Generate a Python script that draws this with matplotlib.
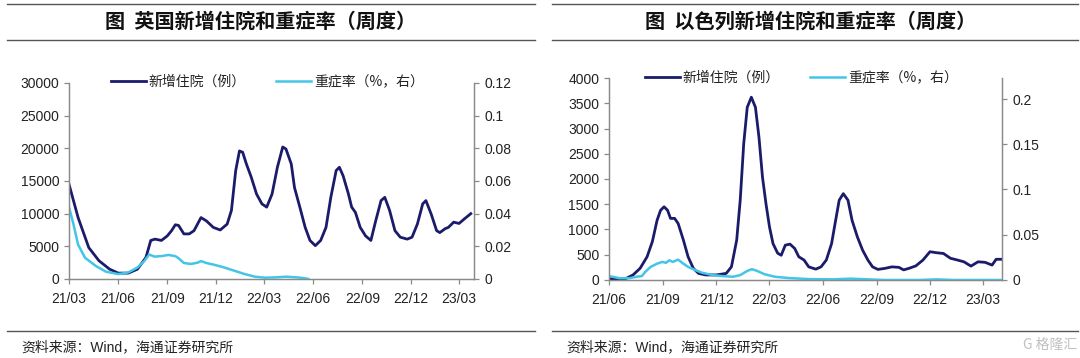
import matplotlib
matplotlib.use("Agg")
import matplotlib.pyplot as plt
import matplotlib.dates as mdates
from matplotlib.lines import Line2D
from matplotlib.ticker import FuncFormatter, MultipleLocator
import pandas as pd

plt.rcParams['font.family'] = ['Liberation Sans', 'Noto Sans CJK SC', 'DejaVu Sans']

# UK weekly new hospitalisations (cases) and severe rate (%, right axis)
uk_hosp_dates = ["2021-03-01", "2021-03-18", "2021-04-07", "2021-04-26", "2021-05-16", "2021-06-01",
                 "2021-06-20", "2021-07-07", "2021-07-16", "2021-07-23", "2021-08-01", "2021-08-09",
                 "2021-08-21", "2021-09-01", "2021-09-09", "2021-09-16", "2021-09-22", "2021-10-02",
                 "2021-10-12", "2021-10-21", "2021-11-03", "2021-11-13", "2021-11-26", "2021-12-09",
                 "2021-12-22", "2021-12-30", "2022-01-07", "2022-01-14", "2022-01-20", "2022-01-27",
                 "2022-02-05", "2022-02-15", "2022-02-25", "2022-03-06", "2022-03-16", "2022-03-26",
                 "2022-04-05", "2022-04-11", "2022-04-21", "2022-04-27", "2022-05-07", "2022-05-17",
                 "2022-05-26", "2022-06-05", "2022-06-15", "2022-06-25", "2022-07-04", "2022-07-14",
                 "2022-07-20", "2022-07-27", "2022-08-06", "2022-08-12", "2022-08-19", "2022-08-28",
                 "2022-09-07", "2022-09-17", "2022-09-26", "2022-10-06", "2022-10-13", "2022-10-22",
                 "2022-11-01", "2022-11-11", "2022-11-24", "2022-12-03", "2022-12-13", "2022-12-23",
                 "2022-12-29", "2023-01-08", "2023-01-18", "2023-01-24", "2023-02-03", "2023-02-09",
                 "2023-02-19", "2023-03-01", "2023-03-11", "2023-03-23"]
uk_hosp = [14500, 9400, 4800, 2800, 1500, 900,
           900, 1500, 2500, 3300, 5900, 6100,
           5900, 6600, 7400, 8300, 8200, 6900,
           6900, 7400, 9400, 8900, 7900, 7500,
           8400, 10500, 16600, 19600, 19400, 17600,
           15600, 13000, 11500, 11000, 13000, 17100,
           20200, 19900, 17600, 14000, 11000, 7900,
           5900, 5100, 5900, 7900, 12500, 16600,
           17100, 15800, 13000, 11000, 10200, 7900,
           6600, 5900, 8900, 12000, 12500, 10500,
           7400, 6400, 6100, 6400, 8400, 11500,
           12000, 9900, 7400, 7100, 7700, 7900,
           8700, 8500, 9200, 10000]
uk_sev_dates = ["2021-03-01", "2021-03-09", "2021-03-18", "2021-03-31", "2021-04-20", "2021-05-09",
                "2021-06-01", "2021-06-20", "2021-07-07", "2021-07-20", "2021-07-29", "2021-08-08",
                "2021-08-21", "2021-09-03", "2021-09-16", "2021-09-22", "2021-10-02", "2021-10-15",
                "2021-10-28", "2021-11-03", "2021-11-13", "2021-11-29", "2021-12-16", "2022-01-04",
                "2022-01-23", "2022-02-12", "2022-03-03", "2022-03-23", "2022-04-11", "2022-05-01",
                "2022-05-13", "2022-05-23"]
uk_sev = [0.044, 0.034, 0.021, 0.013, 0.008, 0.0045,
          0.003, 0.004, 0.007, 0.011, 0.015, 0.0137,
          0.014, 0.0147, 0.014, 0.0127, 0.0098, 0.0092,
          0.010, 0.011, 0.0098, 0.0086, 0.0071, 0.0051,
          0.0031, 0.0014, 0.0008, 0.001, 0.0014, 0.001,
          0.0006, 0.0]

# Israel weekly new hospitalisations (cases) and severe rate (%, right axis)
il_hosp_dates = ["2021-06-01", "2021-06-19", "2021-06-30", "2021-07-12", "2021-07-24", "2021-08-05",
                 "2021-08-14", "2021-08-22", "2021-08-28", "2021-09-03", "2021-09-09", "2021-09-14",
                 "2021-09-21", "2021-09-27", "2021-10-06", "2021-10-14", "2021-10-23", "2021-11-01",
                 "2021-11-13", "2021-12-01", "2021-12-18", "2021-12-27", "2022-01-05", "2022-01-11",
                 "2022-01-17", "2022-01-23", "2022-01-30", "2022-02-06", "2022-02-12", "2022-02-18",
                 "2022-02-24", "2022-03-02", "2022-03-08", "2022-03-16", "2022-03-22", "2022-03-29",
                 "2022-04-06", "2022-04-14", "2022-04-21", "2022-04-30", "2022-05-08", "2022-05-20",
                 "2022-05-29", "2022-06-07", "2022-06-16", "2022-06-22", "2022-06-29", "2022-07-06",
                 "2022-07-14", "2022-07-21", "2022-07-30", "2022-08-08", "2022-08-17", "2022-08-25",
                 "2022-09-03", "2022-09-15", "2022-09-27", "2022-10-09", "2022-10-17", "2022-10-26",
                 "2022-11-07", "2022-11-19", "2022-12-01", "2022-12-12", "2022-12-24", "2023-01-05",
                 "2023-01-17", "2023-01-28", "2023-02-09", "2023-02-21", "2023-03-05", "2023-03-17",
                 "2023-03-24", "2023-04-02"]
il_hosp = [33, 0, 30, 100, 230, 460,
           760, 1180, 1380, 1450, 1380, 1220,
           1220, 1120, 790, 460, 230, 130,
           100, 100, 130, 260, 790, 1580,
           2700, 3420, 3620, 3420, 2830, 2040,
           1510, 1050, 720, 530, 490, 690,
           710, 625, 460, 395, 260, 215,
           260, 395, 720, 1120, 1580, 1710,
           1580, 1180, 855, 590, 395, 260,
           210, 230, 260, 250, 200, 230,
           280, 395, 560, 540, 525, 430,
           395, 360, 275, 360, 350, 295,
           410, 410]
il_sev_dates = ["2021-06-01", "2021-06-19", "2021-07-06", "2021-07-18", "2021-07-27", "2021-08-02",
                "2021-08-11", "2021-08-22", "2021-08-31", "2021-09-06", "2021-09-12", "2021-09-18",
                "2021-09-27", "2021-10-06", "2021-10-14", "2021-10-26", "2021-11-07", "2021-11-25",
                "2021-12-12", "2021-12-30", "2022-01-11", "2022-01-23", "2022-01-31", "2022-02-09",
                "2022-02-21", "2022-03-11", "2022-04-03", "2022-05-08", "2022-06-19", "2022-07-18",
                "2022-08-17", "2022-09-15", "2022-11-13", "2022-12-12", "2023-01-11", "2023-04-02"]
il_sev = [0.0043, 0.002, 0.002, 0.0036, 0.0043, 0.009,
          0.0145, 0.018, 0.020, 0.019, 0.0217, 0.020,
          0.0225, 0.018, 0.0145, 0.011, 0.008, 0.0054,
          0.0043, 0.0036, 0.0054, 0.010, 0.012, 0.010,
          0.0065, 0.0036, 0.0022, 0.001, 0.0007, 0.0015,
          0.0007, 0.0, 0.0, 0.0007, 0.0, 0.0]

NAVY = '#1b1b6b'
CYAN = '#42c5e6'
GRAY = '#8a8a8a'
TXT = '#222222'


def style_axis(ax):
    for side in ['left', 'right', 'bottom']:
        ax.spines[side].set_color(GRAY)
        ax.spines[side].set_linewidth(0.9)
    ax.spines['top'].set_visible(False)
    ax.tick_params(direction='out', length=3.5, width=0.9, color=GRAY,
                   labelcolor=TXT, labelsize=10)


def draw_panel(rect, hosp_dates, hosp, sev_dates, sev, ymax, ystep, rmax, rstep,
               xlim, leg_x, leg_y):
    ax = fig.add_axes(rect)
    ax2 = ax.twinx()
    l1, = ax.plot(pd.to_datetime(hosp_dates), hosp, color=NAVY, lw=2.0, label='新增住院（例）')
    l2, = ax2.plot(pd.to_datetime(sev_dates), sev, color=CYAN, lw=1.8, label='重症率（%，右）')
    ax.set_ylim(0, ymax)
    ax.yaxis.set_major_locator(MultipleLocator(ystep))
    ax2.set_ylim(0, rmax)
    ax2.yaxis.set_major_locator(MultipleLocator(rstep))
    ax2.yaxis.set_major_formatter(FuncFormatter(lambda v, p: '{:g}'.format(round(v, 4))))
    ax.set_xlim(pd.Timestamp(xlim[0]), pd.Timestamp(xlim[1]))
    ax.xaxis.set_major_locator(mdates.MonthLocator(bymonth=[3, 6, 9, 12]))
    ax.xaxis.set_major_formatter(mdates.DateFormatter('%y/%m'))
    style_axis(ax)
    style_axis(ax2)
    ax.tick_params(axis='x', pad=6)
    ax2.tick_params(axis='y', pad=4)
    leg = ax2.legend([l1, l2], [l1.get_label(), l2.get_label()], loc='center left',
                     bbox_to_anchor=(leg_x, leg_y), ncol=2, frameon=False,
                     borderpad=0, borderaxespad=0, handlelength=2.5,
                     handletextpad=0.2, columnspacing=2.2,
                     prop={'family': ['Noto Sans CJK SC'], 'size': 10})
    for t in leg.get_texts():
        t.set_color(TXT)
    return ax


fig = plt.figure(figsize=(10.8, 3.58), dpi=100)

# left panel: UK
draw_panel([0.0639, 0.2207, 0.375, 0.5475], uk_hosp_dates, uk_hosp, uk_sev_dates, uk_sev,
           30000, 5000, 0.12, 0.02, ("2021-03-01", "2023-03-29"), 0.104, 1.005)
# right panel: Israel
draw_panel([0.5639, 0.2179, 0.3639, 0.5642], il_hosp_dates, il_hosp, il_sev_dates, il_sev,
           4000, 500, 0.2232, 0.05, ("2021-06-01", "2023-04-03"), 0.092, 1.0)

# title bars and source rules
for x0, x1 in [(7, 535), (552, 1078)]:
    for y in [4, 40, 330.5]:
        fig.add_artist(Line2D([x0 / 1080, x1 / 1080], [1 - y / 358, 1 - y / 358],
                              transform=fig.transFigure, color='#555555', lw=1.0))

fig.text(261 / 1080, 1 - 21 / 358, '图  英国新增住院和重症率（周度）', ha='center', va='center',
         fontsize=14.5, fontweight='bold', family=['Noto Sans CJK SC'], color='#111111')
fig.text(811 / 1080, 1 - 21 / 358, '图  以色列新增住院和重症率（周度）', ha='center', va='center',
         fontsize=14.5, fontweight='bold', family=['Noto Sans CJK SC'], color='#111111')

fig.text(21 / 1080, 1 - 347 / 358, '资料来源：Wind，海通证券研究所', ha='left', va='center',
         fontsize=10, color=TXT)
fig.text(566 / 1080, 1 - 347 / 358, '资料来源：Wind，海通证券研究所', ha='left', va='center',
         fontsize=10, color=TXT)
fig.text(1077 / 1080, 1 - 345 / 358, 'G 格隆汇', ha='right', va='center',
         fontsize=10, color='#c0c0c0', family=['Noto Sans CJK SC'])

fig.savefig('out.png', dpi=100)
